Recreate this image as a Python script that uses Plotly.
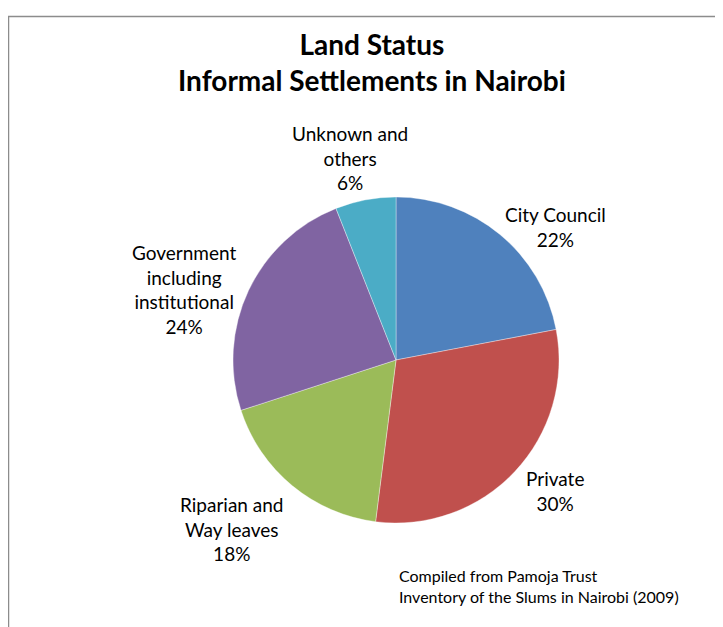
import plotly.graph_objects as go

categories = ["City Council", "Private", "Riparian and Way leaves",
              "Government including institutional", "Unknown and others"]
label_lines = ["City Council", "Private", "Riparian and<br>Way leaves",
               "Government<br>including<br>institutional", "Unknown and<br>others"]
values = [22, 30, 18, 24, 6]
colors = ["#4F81BD", "#C0504D", "#9BBB59", "#8064A2", "#4BACC6"]

W, H = 723, 627
OFF = 8  # page body margin
FONT = "Lato, Carlito, Calibri, sans-serif"


def px_x(x):
    return (x - OFF) / W


def px_y(y):
    return 1 - (y - OFF) / H


fig = go.Figure(go.Pie(
    labels=categories, values=values, sort=False, direction="clockwise",
    rotation=0, marker=dict(colors=colors, line=dict(color="rgba(255,255,255,0.6)", width=0.6)),
    textinfo="none", hoverinfo="label+percent", showlegend=False,
    domain=dict(x=[px_x(233), px_x(559)], y=[px_y(523), px_y(197)]),
))

# label anchor positions (pixel centres of the text blocks)
label_pos = [(555, 227), (555, 491), (232, 529), (184, 289), (350, 158)]
annotations = []
for txt, v, (px, py) in zip(label_lines, values, label_pos):
    annotations.append(dict(
        text=f"{txt}<br>{v}%", x=px_x(px), y=px_y(py), xref="paper", yref="paper",
        showarrow=False, xanchor="center", yanchor="middle", align="center",
        font=dict(family=FONT, size=19, color="#000000")))

annotations.append(dict(
    text="<b>Land Status</b><br><b>Informal Settlements in Nairobi</b>",
    x=px_x(372), y=px_y(62), xref="paper", yref="paper", showarrow=False,
    xanchor="center", yanchor="middle", align="center",
    font=dict(family=FONT, size=28, color="#000000")))

annotations.append(dict(
    text="Compiled from Pamoja Trust<br>Inventory of the Slums in Nairobi (2009)",
    x=px_x(397), y=px_y(586), xref="paper", yref="paper", showarrow=False,
    xanchor="left", yanchor="middle", align="left",
    font=dict(family=FONT, size=16, color="#000000")))

fig.update_layout(
    width=W, height=H, margin=dict(l=0, r=0, t=0, b=0),
    paper_bgcolor="white", plot_bgcolor="white",
    annotations=annotations,
    shapes=[dict(type="rect", xref="paper", yref="paper",
                 x0=px_x(8.5), x1=1.05, y0=-0.05, y1=px_y(16.5),
                 line=dict(color="#8C8C8C", width=1.5))],
)

fig.write_html("out.html")
